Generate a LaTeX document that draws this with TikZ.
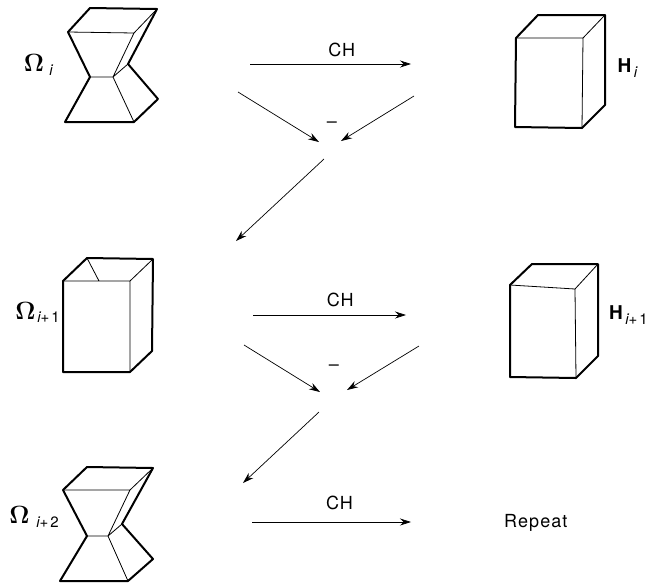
\documentclass[tikz,border=0pt]{standalone}
\usepackage[no-math]{fontspec}
\newfontfamily\drawfont[LetterSpace=6]{TeX Gyre Heros}
\newfontfamily\subfont[LetterSpace=12]{TeX Gyre Heros}
\usetikzlibrary{arrows.meta}
\tikzset{
  heavy/.style={line width=2pt,line join=round},
  light/.style={line width=0.8pt},
  flow/.style={line width=0.7pt,-{Stealth[length=11pt,width=7pt]}},
  txt/.style={font=\drawfont\fontsize{18}{20}\selectfont,inner sep=0pt},
  lab/.style={font=\fontsize{25}{27}\selectfont,inner sep=0pt},
  hlab/.style={font=\drawfont\bfseries\fontsize{19}{21}\selectfont,inner sep=0pt},
  sublab/.style={font=\subfont\fontsize{15}{17}\selectfont,inner sep=0pt},
}
\begin{document}
\begin{tikzpicture}[x=1pt,y=-1pt]
    \useasboundingbox (0,0) rectangle (659,582);
    %% Omega i
    \draw[heavy] (68,32) -- (90,8) -- (157,9) -- (128,64) -- (158,99) -- (134,122) -- (65,122) -- (90,77) -- cycle;
    \draw[light] (68,32) -- (134,33) -- (113,77) -- (90,77) (113,77) -- (134,122) (134,33) -- (157,9) (113,77) -- (128,64);
    \node[lab] (omegaA) at (34,63) {$\mathbf{\Omega}$};
    \node[sublab] (subA) at (51,70) {\itshape i};
    %% Omega i+1
    \draw[heavy] (63,281) -- (87,258) -- (153,259) -- (152,351) -- (130,372) -- (63,372) -- cycle;
    \draw[light] (63,281) -- (130,281) -- (130,372) (87,258) -- (99,281) (130,281) -- (153,259);
    \node[lab] (omegaB) at (25.5,310.5) {$\mathbf{\Omega}$};
    \node[sublab] (subB) at (48.5,317.5) {{\itshape i}+1};
    %% Omega i+2
    \draw[heavy] (63,490) -- (87,467) -- (153,468) -- (122,524) -- (153,559) -- (128,581) -- (60,581) -- (87,536) -- cycle;
    \draw[light] (63,490) -- (130,490) -- (108,536) -- (87,536) (108,536) -- (128,581) (130,490) -- (153,468) (108,536) -- (122,524);
    \node[lab] (omegaC) at (19.5,514.5) {$\mathbf{\Omega}$};
    \node[sublab] (subC) at (47.5,522.5) {{\itshape i}+2};
    %% Hull i
    \draw[heavy] (516,38) -- (538,15) -- (605,15) -- (605,105) -- (582,128) -- (515,127) -- cycle;
    \draw[light] (516,38) -- (583,38) -- (582,128) (583,38) -- (605,15);
    \node[hlab] (hullA) at (624.5,65.5) {H};
    \node[sublab] (subD) at (635.5,72.5) {\itshape i};
    %% Hull i+1
    \draw[heavy] (510,285) -- (532,264) -- (598,264) -- (598,356) -- (576,378) -- (510,377) -- cycle;
    \draw[light] (510,285) -- (575,289) -- (576,378) (575,289) -- (598,264);
    \node[hlab] (hullB) at (616,312.5) {H};
    \node[sublab] (subE) at (636.5,319) {{\itshape i}+1};
    %% Steps
    \coordinate (a1) at (250,64);   \coordinate (a2) at (411,64);
    \coordinate (b1) at (238,92);   \coordinate (b2) at (319,142);
    \coordinate (c1) at (414,96);   \coordinate (c2) at (341,141);
    \coordinate (d1) at (324,159);  \coordinate (d2) at (236,241);
    \coordinate (e1) at (253,315);  \coordinate (e2) at (406,315);
    \coordinate (f1) at (244,345);  \coordinate (f2) at (320,392);
    \coordinate (g1) at (419,346);  \coordinate (g2) at (347,390);
    \coordinate (h1) at (319,412);  \coordinate (h2) at (243,483);
    \coordinate (k1) at (252,522);  \coordinate (k2) at (411,522);
    \draw[flow] (a1) -- (a2) node[txt,pos=0.57,above=7pt] (chA) {CH};
    \draw[flow] (b1) -- (b2);
    \draw[flow] (c1) -- (c2);
    \draw[flow] (d1) -- (d2);
    \draw[flow] (e1) -- (e2) node[txt,pos=0.57,above=8pt] (chB) {CH};
    \draw[flow] (f1) -- (f2);
    \draw[flow] (g1) -- (g2);
    \draw[flow] (h1) -- (h2);
    \draw[flow] (k1) -- (k2) node[txt,pos=0.55,above=12pt] (chC) {CH};
    \node[txt] (minusA) at (332,125) {–};
    \node[txt] (minusB) at (334,368) {–};
    \node[txt,anchor=base west] (repeat) at (504,527) {Repeat};
\end{tikzpicture}
\end{document}
